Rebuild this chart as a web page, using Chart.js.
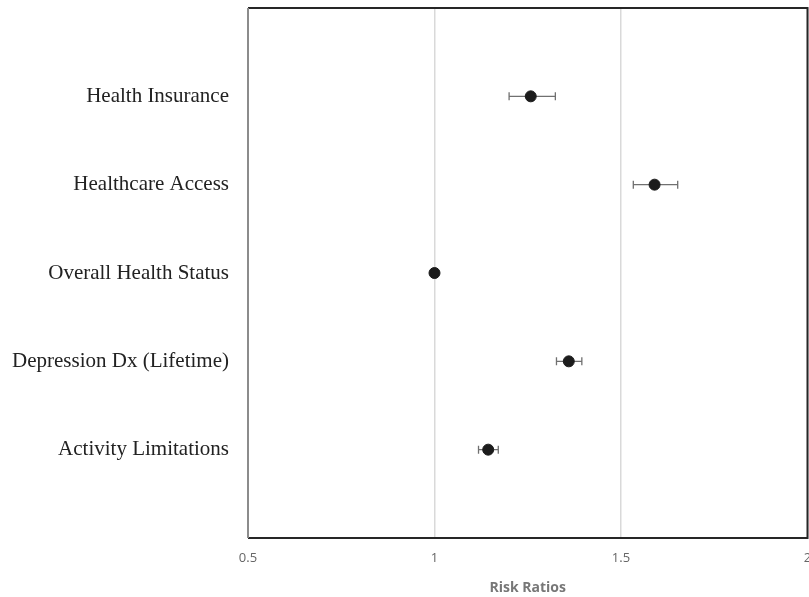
<!DOCTYPE html>
<html>
<head>
<meta charset="utf-8">
<script src="https://cdn.jsdelivr.net/npm/chart.js@4.4.0/dist/chart.umd.min.js"></script>
<style>
    html, body { margin: 0; padding: 0; background: #fff; overflow: hidden; }
    #wrap { width: 809px; height: 597px; overflow: hidden; }
</style>
</head>
<body>
<div id="wrap"><canvas id="myChart" width="814" height="597"></canvas></div>
<script>
// ===============================
// Datos
// ===============================
const categories = ['Health Insurance', 'Healthcare Access', 'Overall Health Status', 'Depression Dx (Lifetime)', 'Activity Limitations'];
const riskRatio = [1.258, 1.590, 1.0, 1.360, 1.144];
const lowerCI = [1.200, 1.533, 0.997, 1.327, 1.118];
const upperCI = [1.324, 1.652, 1.003, 1.395, 1.171];
const xTicks = [0.5, 1, 1.5, 2];

// ===============================
// Plugin: barras de error + marco
// ===============================
const errorBars = {
    id: 'errorBars',
    beforeDatasetsDraw(chart) {
        const { ctx, scales: { x, y } } = chart;
        ctx.save();
        ctx.strokeStyle = '#707070';
        ctx.lineWidth = 1.3;
        categories.forEach((c, i) => {
            const yy = y.getPixelForValue(i + 1);
            const x0 = x.getPixelForValue(lowerCI[i]);
            const x1 = x.getPixelForValue(upperCI[i]);
            ctx.beginPath();
            ctx.moveTo(x0, yy); ctx.lineTo(x1, yy);
            ctx.moveTo(x0, yy - 4); ctx.lineTo(x0, yy + 4);
            ctx.moveTo(x1, yy - 4); ctx.lineTo(x1, yy + 4);
            ctx.stroke();
        });
        ctx.restore();
    },
    afterDraw(chart) {
        const { ctx, chartArea: a } = chart;
        ctx.save();
        ctx.lineWidth = 2;
        ctx.strokeStyle = '#262626';
        ctx.beginPath();
        ctx.moveTo(a.left, a.top); ctx.lineTo(a.right, a.top);
        ctx.lineTo(a.right, a.bottom); ctx.lineTo(a.left, a.bottom);
        ctx.stroke();
        ctx.strokeStyle = '#8c8c8c';
        ctx.beginPath();
        ctx.moveTo(a.left, a.top); ctx.lineTo(a.left, a.bottom);
        ctx.stroke();
        ctx.restore();
    }
};

// quitar el relleno que Chart.js reserva para la última etiqueta
function fitX(s) {
    s.height = 59;
    s.paddingLeft = 0;
    s.paddingRight = 0;
}

const ctx = document.getElementById('myChart').getContext('2d');
new Chart(ctx, {
    type: 'scatter',
    data: {
        datasets: [{
            data: riskRatio.map((v, i) => ({ x: v, y: i + 1 })),
            backgroundColor: '#1c1c1c',
            borderColor: '#1c1c1c',
            pointRadius: 5.5,
            pointHoverRadius: 5.5
        }]
    },
    options: {
        responsive: false,
        animation: false,
        layout: { padding: { top: 8, right: 1, left: 0, bottom: 0 } },
        plugins: {
            legend: { display: false },
            tooltip: { enabled: false }
        },
        scales: {
            x: {
                type: 'linear',
                min: 0.5,
                max: 2,
                afterBuildTicks: (s) => { s.ticks = xTicks.map(v => ({ value: v })); },
                afterFit: fitX,
                grid: { color: '#d9d9d9', lineWidth: 1.5, drawTicks: false },
                border: { display: false },
                ticks: {
                    padding: 12,
                    color: '#666',
                    font: { family: 'Open Sans', size: 13 },
                    maxRotation: 0,
                    callback: (v) => String(v)
                },
                title: {
                    display: true,
                    text: 'Risk Ratios',
                    color: '#777',
                    font: { family: 'Open Sans', size: 14, weight: 'bold' },
                    padding: { top: 0, bottom: 1 }
                }
            },
            y: {
                type: 'linear',
                min: 0,
                max: 6,
                reverse: true,
                afterBuildTicks: (s) => { s.ticks = categories.map((c, i) => ({ value: i + 1 })); },
                afterFit: (s) => { s.width = 248; s.paddingTop = 0; s.paddingBottom = 0; },
                grid: { display: false, drawTicks: false },
                border: { display: false },
                ticks: {
                    padding: 19,
                    color: '#222',
                    font: { family: 'Liberation Serif', size: 21 },
                    callback: (v) => categories[v - 1] || ''
                }
            }
        }
    },
    plugins: [errorBars]
});
</script>
</body>
</html>
